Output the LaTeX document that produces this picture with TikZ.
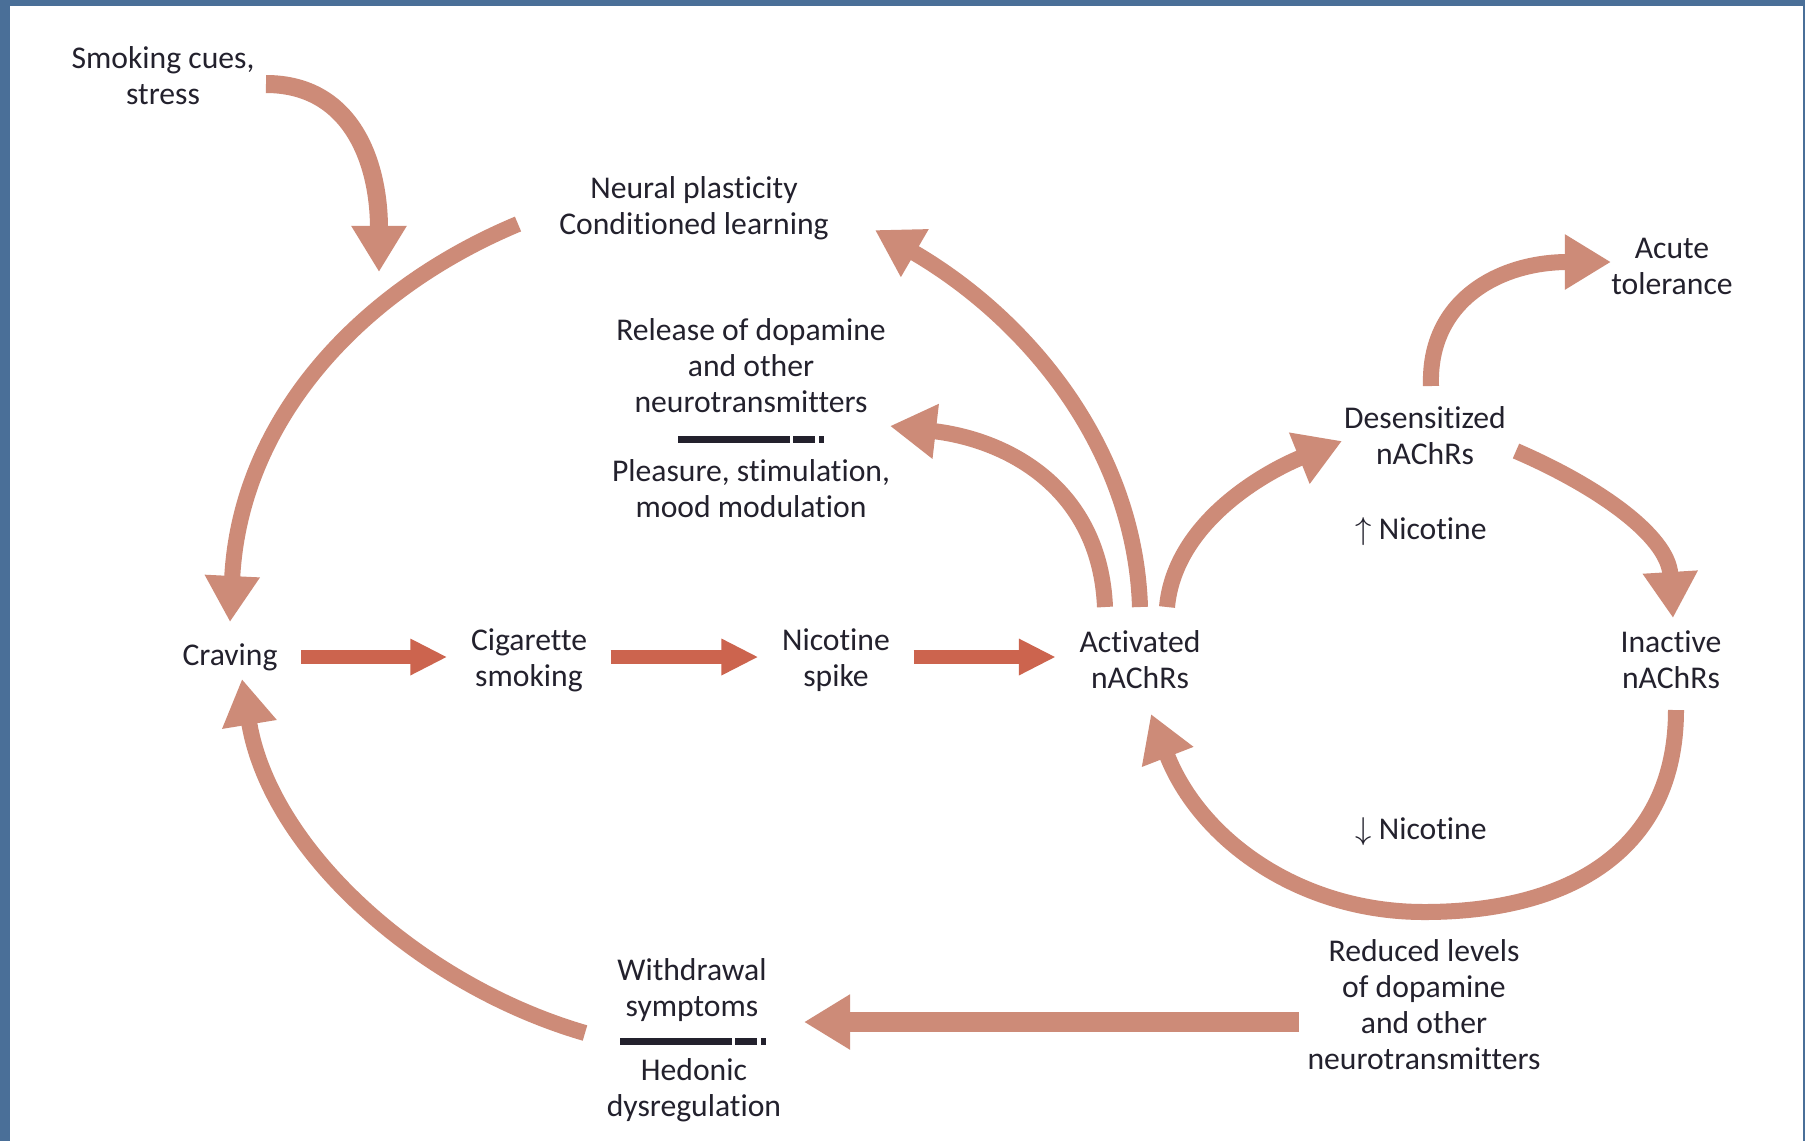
\documentclass[tikz,border=0pt]{standalone}
\usepackage{fontspec}
\setmainfont{Carlito}[Ligatures=NoCommon]
\usetikzlibrary{arrows.meta,positioning,calc}

\definecolor{borderblue}{RGB}{74,111,152}
\definecolor{loopsalmon}{RGB}{205,139,120}
\definecolor{flowred}{RGB}{204,100,78}
\definecolor{inkdark}{RGB}{35,33,45}

\tikzset{
  desc/.style={align=center, text=inkdark, font=\fontsize{9}{10.25}\selectfont, inner sep=0pt},
  stage/.style={desc, inner xsep=0.23cm},
  loop arrow/.style={draw=loopsalmon, line width=0.16cm, -{Triangle[width=0.52cm,length=0.46cm]}},
  flow arrow/.style={draw=flowred, line width=0.14cm, -{Triangle[width=0.34cm,length=0.37cm]}},
  rule bar/.style={draw=inkdark, line width=0.07cm, dash pattern=on 1.12cm off 0.03cm on 0.22cm off 0.04cm on 0.05cm off 2cm},
}

\begin{document}
\begin{tikzpicture}[x=0.01cm, y=-0.01cm]
  % Frame
  \useasboundingbox (0,0) rectangle (1805,1141);
  \fill[borderblue] (0,0) rectangle (1805,1141);
  \fill[white] (10,6) rectangle (1803,1141);

  % Texts
  \node[desc] (cue) at (163,76) {Smoking cues,\\stress};
  \node[desc] (neural) at (694,208) {Neural plasticity\\Conditioned learning};
  \node[desc] (release) at (751,366) {Release of dopamine\\and other\\neurotransmitters};
  \node[desc] (pleasure) at (751,489) {Pleasure, stimulation,\\mood modulation};
  \node[stage] (crav) at (230,657) {Craving};
  \node[stage] (cig) at (529,660) {Cigarette\\smoking};
  \node[stage] (spike) at (836,660) {Nicotine\\spike};
  \node[stage] (act) at (1140,660) {Activated\\nAChRs};
  \node[desc] (inact) at (1671,660) {Inactive\\nAChRs};
  \node[desc] (desens) at (1425,436) {Desensitized\\nAChRs};
  \node[desc] (tol) at (1672,266) {Acute\\tolerance};
  \node[desc] (up) at (1421,532) {$\uparrow$ Nicotine};
  \node[desc] (down) at (1421,832) {$\downarrow$ Nicotine};
  \node[desc] (reduced) at (1424,1005) {Reduced levels\\of dopamine\\and other\\neurotransmitters};
  \node[desc] (withdraw) at (692,990) {Withdrawal\\symptoms};
  \node[desc] (hedonic) at (694,1090) {Hedonic\\dysregulation};

  % Divider bars
  \draw[rule bar] (678,439) -- (824,439);
  \draw[rule bar] (620,1041) -- (767,1041);

  % Arc ends
  \coordinate (cue-out) at (266,84);
  \coordinate (cue-in) at (379,272);
  \coordinate (neural-out) at (518,224);
  \coordinate (crav-top) at (230,622);
  \coordinate (withdraw-out) at (585,1033);
  \coordinate (crav-bot) at (242,679);
  \coordinate (act-n1) at (1105,607);
  \coordinate (act-n2) at (1140,607);
  \coordinate (act-n3) at (1167,607);
  \coordinate (neural-in) at (875,230);
  \coordinate (release-in) at (890,426);
  \coordinate (desens-in) at (1342,441);
  \coordinate (desens-up) at (1431,386);
  \coordinate (tol-in) at (1611,262);
  \coordinate (desens-out) at (1516,451);
  \coordinate (inact-top) at (1673,618);
  \coordinate (inact-bot) at (1676,710);
  \coordinate (act-bot) at (1151,714);
  \coordinate (reduced-out) at (1299,1022);
  \coordinate (withdraw-in) at (804,1022);

  % Main chain
  \draw[flow arrow] (crav.east) -- (crav.east -| cig.west);
  \draw[flow arrow] (crav.east -| cig.east) -- (crav.east -| spike.west);
  \draw[flow arrow] (crav.east -| spike.east) -- (crav.east -| act.west);

  % Feedback loops
  \draw[loop arrow, line width=0.18cm] (cue-out) .. controls (350,84) and (379,160) .. (cue-in);
  \draw[loop arrow] (neural-out) .. controls (360,290) and (240,420) .. (crav-top);
  \draw[loop arrow] (withdraw-out) .. controls (420,985) and (270,850) .. (crav-bot);
  \draw[loop arrow] (act-n2) .. controls (1135,450) and (1030,320) .. (neural-in);
  \draw[loop arrow] (act-n1) .. controls (1100,490) and (1010,440) .. (release-in);
  \draw[loop arrow] (act-n3) .. controls (1175,520) and (1270,470) .. (desens-in);
  \draw[loop arrow] (desens-up) .. controls (1428,300) and (1500,262) .. (tol-in);
  \draw[loop arrow] (desens-out) .. controls (1595,485) and (1668,535) .. (inact-top);
  \draw[loop arrow] (inact-bot) .. controls (1676,850) and (1570,912) .. (1424,912)
    .. controls (1300,912) and (1200,840) .. (act-bot);
  \draw[loop arrow, line width=0.2cm] (reduced-out) -- (withdraw-in);
\end{tikzpicture}
\end{document}
